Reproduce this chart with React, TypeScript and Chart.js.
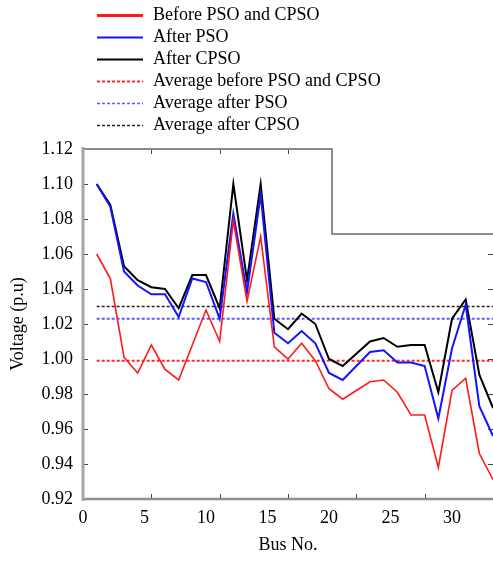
import React, { useEffect, useRef } from "react";
import { Chart, registerables } from "chart.js";

Chart.register(...registerables);

// ---- data ----
const buses = [1, 2, 3, 4, 5, 6, 7, 8, 9, 10, 11, 12, 13, 14, 15, 16, 17, 18, 19, 20, 21, 22, 23, 24, 25, 26, 27, 28, 29, 30];

const beforeVals = [1.060, 1.046, 1.001, 0.992, 1.008, 0.994, 0.988, 1.008, 1.028, 1.010, 1.079, 1.033, 1.070, 1.007, 1.000, 1.009, 0.999, 0.983, 0.977, 0.982, 0.987, 0.988, 0.981, 0.968, 0.968, 0.938, 0.982, 0.989, 0.946, 0.931];

const afterPsoVals = [1.100, 1.087, 1.050, 1.042, 1.037, 1.037, 1.024, 1.046, 1.044, 1.023, 1.083, 1.038, 1.094, 1.015, 1.009, 1.016, 1.009, 0.992, 0.988, 0.996, 1.004, 1.005, 0.998, 0.998, 0.996, 0.966, 1.006, 1.031, 0.973, 0.956];

const afterCpsoVals = [1.100, 1.088, 1.053, 1.045, 1.041, 1.040, 1.029, 1.048, 1.048, 1.029, 1.100, 1.045, 1.100, 1.023, 1.017, 1.026, 1.020, 1.000, 0.996, 1.003, 1.010, 1.012, 1.007, 1.008, 1.008, 0.981, 1.023, 1.034, 0.991, 0.972];

const avgBefore = 0.999;
const avgPso = 1.023;
const avgCpso = 1.030;

const yTicks = [0.92, 0.94, 0.96, 0.98, 1.0, 1.02, 1.04, 1.06, 1.08, 1.1, 1.12];
const xTickLabels = [0, 5, 10, 15, 20, 25, 30];
const xDataTicks = [5, 10, 15, 20, 25];

const seriesLabels = [
  "Before PSO and CPSO",
  "After PSO",
  "After CPSO",
  "Average before PSO and CPSO",
  "Average after PSO",
  "Average after CPSO",
];

const FONT = "'Liberation Serif', 'Times New Roman', serif";

export default function App() {
  const ref = useRef<HTMLCanvasElement>(null);

  useEffect(() => {
    const canvas = ref.current;
    if (!canvas) return;

    const pts = (vals: number[]) => buses.map((b, i) => ({ x: b, y: vals[i] }));
    const avgPts = (v: number) => [
      { x: buses[0], y: v },
      { x: buses[buses.length - 1], y: v },
    ];

    const framePlugin = {
      id: "frame",
      afterDatasetsDraw(chart: any) {
        const { ctx, chartArea: a, scales } = chart;
        const xs = scales.x;
        const ys = scales.y;
        ctx.save();
        // inward ticks
        ctx.strokeStyle = "#444";
        ctx.lineWidth = 1;
        ctx.beginPath();
        for (const v of yTicks) {
          const py = Math.round(ys.getPixelForValue(v)) + 0.5;
          ctx.moveTo(a.left, py);
          ctx.lineTo(a.left + 5, py);
          ctx.moveTo(a.right, py);
          ctx.lineTo(a.right - 5, py);
        }
        for (const v of xDataTicks) {
          const px = Math.round(xs.getPixelForValue(v)) + 0.5;
          ctx.moveTo(px, a.bottom);
          ctx.lineTo(px, a.bottom - 5);
          ctx.moveTo(px, a.top);
          ctx.lineTo(px, a.top + 5);
        }
        ctx.stroke();

        // legend box overlapping the top-right of the axes
        const bx = 332;
        const by = 234;
        ctx.fillStyle = "#fff";
        ctx.fillRect(bx, a.top - 3, a.right - bx + 2, by - a.top + 3);
        ctx.strokeStyle = "#8c8c8c";
        ctx.lineWidth = 2;
        ctx.beginPath();
        ctx.moveTo(bx, a.top - 1);
        ctx.lineTo(bx, by);
        ctx.lineTo(a.right, by);
        ctx.stroke();

        // top frame
        ctx.strokeStyle = "#8a8a8a";
        ctx.lineWidth = 2;
        ctx.beginPath();
        ctx.moveTo(a.left, a.top);
        ctx.lineTo(bx, a.top);
        ctx.stroke();
        // bottom frame
        ctx.strokeStyle = "#8f8f8f";
        ctx.lineWidth = 2.5;
        ctx.beginPath();
        ctx.moveTo(a.left, a.bottom);
        ctx.lineTo(a.right, a.bottom);
        ctx.stroke();
        // left frame
        ctx.strokeStyle = "#a6a6a6";
        ctx.lineWidth = 3;
        ctx.beginPath();
        ctx.moveTo(a.left, a.top - 2);
        ctx.lineTo(a.left, a.bottom + 2);
        ctx.stroke();
        ctx.restore();
      },
      afterDraw(chart: any) {
        const { ctx } = chart;
        ctx.save();
        ctx.font = `18px ${FONT}`;
        ctx.textBaseline = "middle";
        ctx.textAlign = "left";
        chart.data.datasets.forEach((ds: any, i: number) => {
          const y = 15.5 + i * 22;
          ctx.strokeStyle = ds.borderColor;
          ctx.lineWidth = ds.legendWidth || ds.borderWidth;
          ctx.setLineDash(ds.borderDash || []);
          ctx.beginPath();
          ctx.moveTo(97, y);
          ctx.lineTo(143, y);
          ctx.stroke();
          ctx.setLineDash([]);
          ctx.fillStyle = "#000";
          ctx.fillText(ds.label, 153, y);
        });
        ctx.restore();
      },
    };

    const chart = new Chart(canvas, {
      type: "line",
      data: {
        datasets: [
          { label: seriesLabels[0], data: pts(beforeVals), borderColor: "#ff1a1a", borderWidth: 1.6, legendWidth: 3 },
          { label: seriesLabels[1], data: pts(afterPsoVals), borderColor: "#1414ff", borderWidth: 2 },
          { label: seriesLabels[2], data: pts(afterCpsoVals), borderColor: "#000000", borderWidth: 2 },
          { label: seriesLabels[3], data: avgPts(avgBefore), borderColor: "#ff2a2a", borderWidth: 2, borderDash: [3, 2] },
          { label: seriesLabels[4], data: avgPts(avgPso), borderColor: "#5b5bff", borderWidth: 2, borderDash: [3, 2], legendWidth: 1.5 },
          { label: seriesLabels[5], data: avgPts(avgCpso), borderColor: "#222222", borderWidth: 1.5, borderDash: [3, 2] },
        ] as any,
      },
      options: {
        animation: false,
        responsive: false,
        devicePixelRatio: 1,
        layout: { padding: { top: 149, left: 0, right: 0, bottom: 0 } },
        elements: { point: { radius: 0 }, line: { tension: 0, fill: false } },
        plugins: { legend: { display: false }, tooltip: { enabled: false } },
        scales: {
          x: { type: "linear", display: false, min: 0, max: 30 },
          xl: {
            type: "linear",
            position: "bottom",
            min: 0,
            max: 33.33,
            grid: { display: false, drawTicks: false },
            border: { display: false },
            ticks: {
              font: { family: FONT, size: 18 },
              color: "#000",
              padding: 8,
              autoSkip: false,
              maxRotation: 0,
              callback: (v: any) => String(v),
            },
            afterBuildTicks: (s: any) => {
              s.ticks = xTickLabels.map((v) => ({ value: v }));
            },
            afterFit: (s: any) => {
              s.height = 64;
            },
            title: {
              display: true,
              text: "Bus No.",
              font: { family: FONT, size: 18 },
              color: "#000",
              padding: { top: 0, bottom: 7 },
            },
          },
          y: {
            type: "linear",
            position: "left",
            min: 0.92,
            max: 1.12,
            grid: { display: false, drawTicks: false },
            border: { display: false },
            ticks: {
              font: { family: FONT, size: 18 },
              color: "#000",
              padding: 10,
              autoSkip: false,
              callback: (v: any) => Number(v).toFixed(2),
            },
            afterBuildTicks: (s: any) => {
              s.ticks = yTicks.map((v) => ({ value: v }));
            },
            afterFit: (s: any) => {
              s.width = 83;
            },
            title: {
              display: true,
              text: "Voltage (p.u)",
              font: { family: FONT, size: 18 },
              color: "#000",
              padding: { top: 7, bottom: 0 },
            },
          },
        } as any,
      },
      plugins: [framePlugin],
    } as any);

    return () => chart.destroy();
  }, []);

  return (
    <div style={{ position: "absolute", left: 0, top: 0, width: 493, height: 563, background: "#fff" }}>
      <canvas ref={ref} width={493} height={563} style={{ display: "block" }} />
    </div>
  );
}
